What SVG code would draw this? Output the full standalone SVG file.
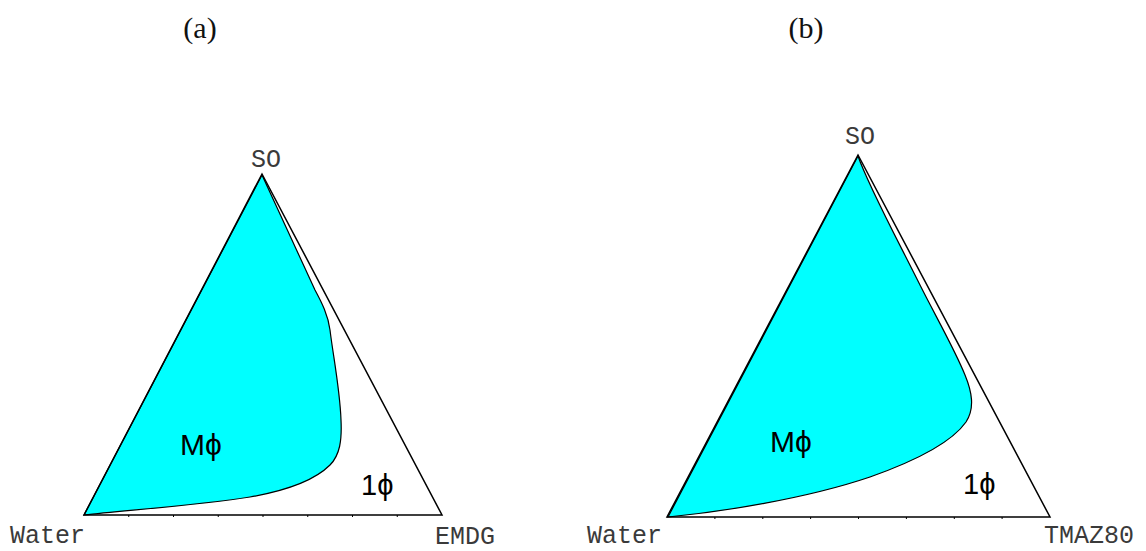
<svg xmlns="http://www.w3.org/2000/svg" width="1146" height="551" viewBox="0 0 1146 551">
<style>
.title{font-family:"Liberation Serif",serif;font-size:30px;fill:#111;text-anchor:middle}
.lab{font-family:"Liberation Mono",monospace;font-size:25px;fill:#3a3a3a}
.ph{font-family:"Liberation Sans","DejaVu Sans",sans-serif;fill:#000}
.tri{fill:none;stroke:#000;stroke-width:1.5;stroke-linejoin:miter}
.reg{fill:#00ffff;stroke:#000;stroke-width:1.2}
.tick{stroke:#000;stroke-width:1}
</style>
<rect width="1146" height="551" fill="#fff"/>
<g id="diagram-a">
  <text class="title" x="200" y="38">(a)</text>
  <path id="region-a" class="reg" d="M262,175 L315,290 C322,303 328,315 330,330 C333,355 340,390 341,420 C342,440 340,455 330,465 C315,480 290,490 250,497 C200,505 130,510 84,515 Z"/>
  <path id="triangle-a" class="tri" d="M262,174 L442,515 L84,515 Z"/>
  <g class="tick">
    <line x1="128.75" y1="515" x2="128.75" y2="517"/>
    <line x1="173.5" y1="515" x2="173.5" y2="517"/>
    <line x1="218.25" y1="515" x2="218.25" y2="517"/>
    <line x1="263" y1="515" x2="263" y2="517"/>
    <line x1="307.75" y1="515" x2="307.75" y2="517"/>
    <line x1="352.5" y1="515" x2="352.5" y2="517"/>
    <line x1="397.25" y1="515" x2="397.25" y2="517"/>
  </g>
  <text class="lab" x="251" y="167">SO</text>
  <text class="lab" x="10" y="543">Water</text>
  <text class="lab" x="435" y="544">EMDG</text>
  <text class="ph" x="180" y="455" font-size="30">Mϕ</text>
  <text class="ph" x="361" y="495" font-size="29">1ϕ</text>
</g>
<g id="diagram-b">
  <text class="title" x="806" y="38">(b)</text>
  <path id="region-b" class="reg" d="M858,156 C868,185 895,235 920,285 C935,315 955,350 965,375 C972,392 975,408 966,422 C952,442 918,460 870,477 C805,499 720,512 668,517 Z"/>
  <path id="triangle-b" class="tri" d="M858,155 L1050,517 L667,517 Z"/>
  <g class="tick">
    <line x1="714.9" y1="517" x2="714.9" y2="519"/>
    <line x1="762.8" y1="517" x2="762.8" y2="519"/>
    <line x1="810.6" y1="517" x2="810.6" y2="519"/>
    <line x1="858.5" y1="517" x2="858.5" y2="519"/>
    <line x1="906.4" y1="517" x2="906.4" y2="519"/>
    <line x1="954.3" y1="517" x2="954.3" y2="519"/>
    <line x1="1002.1" y1="517" x2="1002.1" y2="519"/>
  </g>
  <text class="lab" x="845" y="144" font-size="24">SO</text>
  <text class="lab" x="587" y="543">Water</text>
  <text class="lab" x="1044" y="543" font-size="24">TMAZ80</text>
  <text class="ph" x="770" y="452" font-size="30">Mϕ</text>
  <text class="ph" x="963" y="494" font-size="29">1ϕ</text>
</g>
</svg>
